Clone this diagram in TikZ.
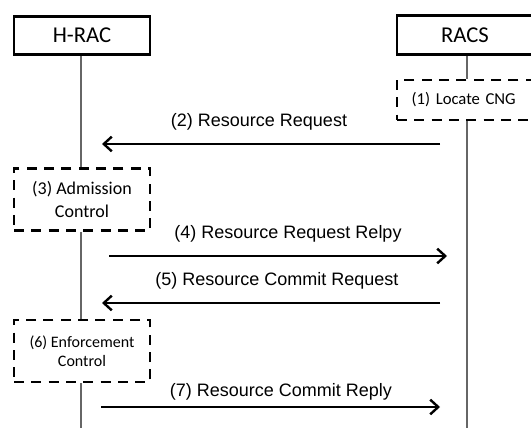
\documentclass[tikz,border=0pt]{standalone}
\usepackage{fontspec}
\setmainfont{Carlito}
\newfontfamily\arialfont{Liberation Sans}
\usetikzlibrary{arrows.meta}

\begin{document}
\begin{tikzpicture}[x=0.75pt,y=-0.75pt]
  \tikzstyle{entity}=[draw,rectangle,line width=2.2pt,minimum width=102pt,minimum height=29pt,font=\fontsize{17}{20}\selectfont];
  \tikzstyle{stepbox}=[draw,rectangle,line width=2.2pt,dash pattern=on 7.5pt off 5.5pt,minimum width=102pt,align=center];
  \tikzstyle{lifeline}=[draw,black!60,line width=0.9pt];
  \tikzstyle{msg}=[-{Straight Barb[length=6pt,width=11pt]},line width=1.8pt];
  \tikzstyle{etiq}=[font=\arialfont\fontsize{13.5}{16}\selectfont];

  \useasboundingbox (0,0) rectangle (531,428);

  \node[entity] (hrac) at (82,35.5) {H-RAC};
  \node[entity] (racs) at (465,35) {RACS};

  \node[stepbox,minimum height=30pt,text width=80pt,align=left,inner xsep=11pt,font=\fontsize{12.5}{15}\selectfont] (locate) at (465,100) {(1) Locate CNG};
  \node[stepbox,minimum height=47pt,font=\fontsize{13.5}{17}\selectfont] (admission) at (82,199.5) {(3) Admission\\Control};
  \node[stepbox,minimum height=46.5pt,font=\fontsize{12}{14}\selectfont] (enforce) at (82,351) {(6) Enforcement\\Control};

  \coordinate (hracend) at (81,428);
  \coordinate (racsend) at (467,428);

  % lifelines
  \draw[lifeline] (hrac.south -| 81,0) -- (admission.north -| 81,0);
  \draw[lifeline] (admission.south -| 81,0) -- (enforce.north -| 81,0);
  \draw[lifeline] (enforce.south -| 81,0) -- (hracend);
  \draw[lifeline] (racs.south -| 467,0) -- (locate.north -| 467,0);
  \draw[lifeline] (locate.south -| 467,0) -- (racsend);

  \coordinate (m2a) at (440,144);  \coordinate (m2b) at (102,144);
  \coordinate (m4a) at (109,256);  \coordinate (m4b) at (447,256);
  \coordinate (m5a) at (440,303);  \coordinate (m5b) at (102,303);
  \coordinate (m7a) at (101,407);  \coordinate (m7b) at (440,407);

  % (2) : RACS => H-RAC
  \draw[msg] (m2a) -- (m2b);
  \node[etiq] (l2) at (259,122) {(2) Resource Request};

  % (4) : H-RAC => RACS
  \draw[msg] (m4a) -- (m4b);
  \node[etiq] (l4) at (288,234) {(4) Resource Request Relpy};

  % (5) : RACS => H-RAC
  \draw[msg] (m5a) -- (m5b);
  \node[etiq] (l5) at (277,281) {(5) Resource Commit Request};

  % (7) : H-RAC => RACS
  \draw[msg] (m7a) -- (m7b);
  \node[etiq] (l7) at (281,392) {(7) Resource Commit Reply};

\end{tikzpicture}
\end{document}
